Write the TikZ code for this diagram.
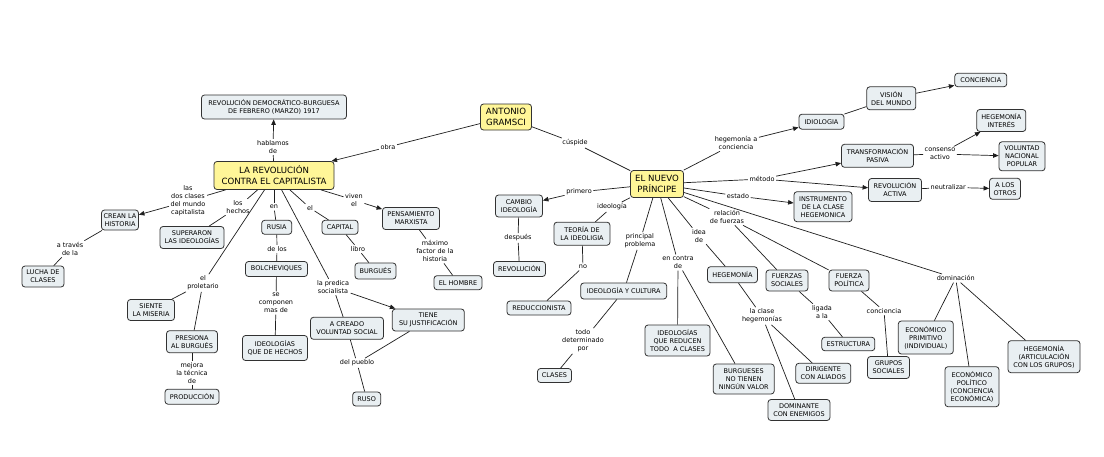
\documentclass[tikz,border=0pt]{standalone}
\usepackage{fontspec}
\setmainfont{DejaVu Sans}
\usetikzlibrary{arrows.meta}
\definecolor{cfill}{RGB}{233,239,242}
\definecolor{yfill}{RGB}{255,246,152}
\definecolor{bordc}{RGB}{50,50,50}
\definecolor{linec}{RGB}{30,30,30}
\tikzset{
 cb/.style={draw=bordc, fill=cfill, rounded corners=3pt, line width=0.8pt, align=center,
   font=\fontsize{6.5}{8}\selectfont, inner sep=1pt, text=black},
 yb/.style={cb, fill=yfill, font=\fontsize{8.6}{11}\selectfont, text=black},
 lb/.style={align=center, font=\fontsize{6.5}{8}\selectfont, inner sep=1.5pt, text=black},
 ln/.style={draw=linec, line width=0.7pt},
 ar/.style={ln, -{Triangle[length=5.5pt,width=4.5pt]}},
}
\begin{document}
\begin{tikzpicture}[x=1pt,y=-1pt]
\fill[white] (0,0) rectangle (1104,456);
\useasboundingbox (0,0) rectangle (1104,456);
% ---------- concepts ----------
\node[cb, minimum width=145, minimum height=24] (rdb) at (274,107) {REVOLUCIÓN DEMOCRÁTICO-BURGUESA\\DE FEBRERO (MARZO) 1917};
\node[yb, minimum width=120, minimum height=28] (larev) at (274,175.5) {LA REVOLUCIÓN\\CONTRA EL CAPITALISTA};
\node[yb, minimum width=51, minimum height=26] (gram) at (506,117) {ANTONIO\\GRAMSCI};
\node[yb, minimum width=53, minimum height=27] (np) at (657,184) {EL NUEVO\\PRÍNCIPE};
\node[cb, minimum width=37, minimum height=20] (crean) at (120,220) {CREAN LA\\HISTORIA};
\node[cb, minimum width=42, minimum height=21] (lucha) at (43,276.5) {LUCHA DE\\CLASES};
\node[cb, minimum width=64, minimum height=22] (superaron) at (192,237.5) {SUPERARON\\LAS IDEOLOGÍAS};
\node[cb, minimum width=47, minimum height=21] (siente) at (151,310) {SIENTE\\LA MISERIA};
\node[cb, minimum width=51, minimum height=22] (presiona) at (192,341.7) {PRESIONA\\AL BURGUÉS};
\node[cb, minimum width=54, minimum height=15] (produccion) at (192,396.7) {PRODUCCIÓN};
\node[cb, minimum width=30, minimum height=14] (rusia) at (276.7,227.3) {RUSIA};
\node[cb, minimum width=62, minimum height=15] (bolch) at (276.5,269) {BOLCHEVIQUES};
\node[cb, minimum width=65, minimum height=25] (ideohechos) at (275,348) {IDEOLOGÍAS\\QUE DE HECHOS};
\node[cb, minimum width=36, minimum height=14] (capital) at (340,227.3) {CAPITAL};
\node[cb, minimum width=41, minimum height=16] (burgues) at (375.5,271) {BURGUÉS};
\node[cb, minimum width=57, minimum height=22] (pensam) at (411,218.5) {PENSAMIENTO\\MARXISTA};
\node[cb, minimum width=48, minimum height=14] (hombre) at (458,282.7) {EL HOMBRE};
\node[cb, minimum width=73, minimum height=22] (acreado) at (347,328.3) {A CREADO\\VOLUNTAD SOCIAL};
\node[cb, minimum width=72, minimum height=22] (tiene) at (428.3,320) {TIENE\\SU JUSTIFICACIÓN};
\node[cb, minimum width=28, minimum height=14] (ruso) at (366.7,399) {RUSO};
\node[cb, minimum width=47, minimum height=22] (cambio) at (519,206) {CAMBIO\\IDEOLOGÍA};
\node[cb, minimum width=52, minimum height=15] (revol) at (519.5,269) {REVOLUCIÓN};
\node[cb, minimum width=56, minimum height=23] (teoria) at (582,233.7) {TEORÍA DE\\LA IDEOLIGIA};
\node[cb, minimum width=64, minimum height=14] (reducc) at (539,308) {REDUCCIONISTA};
\node[cb, minimum width=86, minimum height=16] (ideocult) at (623.7,291) {IDEOLOGÍA Y CULTURA};
\node[cb, minimum width=34, minimum height=14] (clases) at (554.5,375.5) {CLASES};
\node[cb, minimum width=65, minimum height=31] (ideored) at (677.5,340.5) {IDEOLOGÍAS\\QUE REDUCEN\\TODO\ \ A CLASES};
\node[cb, minimum width=61, minimum height=30] (burgueses) at (743.7,379) {BURGUESES\\NO TIENEN\\NINGÚN VALOR};
\node[cb, minimum width=50, minimum height=16] (hegem) at (732.5,274.7) {HEGEMONÍA};
\node[cb, minimum width=55, minimum height=20] (dirigente) at (823.3,373.3) {DIRIGENTE\\CON ALIADOS};
\node[cb, minimum width=62, minimum height=21] (dominante) at (799,410) {DOMINANTE\\CON ENEMIGOS};
\node[cb, minimum width=45, minimum height=15] (idiologia) at (821.5,121.7) {IDIOLOGIA};
\node[cb, minimum width=49, minimum height=23] (vision) at (891.3,98.3) {VISIÓN\\DEL MUNDO};
\node[cb, minimum width=52, minimum height=13.5] (conciencia) at (980.8,80) {CONCIENCIA};
\node[cb, minimum width=72, minimum height=23] (transf) at (877.5,155.8) {TRANSFORMACIÓN\\PASIVA};
\node[cb, minimum width=49, minimum height=22] (hegint) at (1001.3,120.5) {HEGEMONÍA\\INTERÉS};
\node[cb, minimum width=46, minimum height=29] (voluntad) at (1022,156.3) {VOLUNTAD\\NACIONAL\\POPULAR};
\node[cb, minimum width=53, minimum height=23] (revact) at (895,190) {REVOLUCIÓN\\ACTIVA};
\node[cb, minimum width=31, minimum height=21] (losotros) at (1005,188.8) {A LOS\\OTROS};
\node[cb, minimum width=58, minimum height=30] (instr) at (823,206.7) {INSTRUMENTO\\DE LA CLASE\\HEGEMONICA};
\node[cb, minimum width=42, minimum height=21] (fsoc) at (787,280.5) {FUERZAS\\SOCIALES};
\node[cb, minimum width=53, minimum height=13.5] (estruct) at (848.3,344) {ESTRUCTURA};
\node[cb, minimum width=40, minimum height=21] (fpol) at (849,280.5) {FUERZA\\POLÍTICA};
\node[cb, minimum width=42, minimum height=22] (grupos) at (888.5,367.5) {GRUPOS\\SOCIALES};
\node[cb, minimum width=55, minimum height=33] (ecoprim) at (925.8,337.5) {ECONÓMICO\\PRIMITIVO\\(INDIVIDUAL)};
\node[cb, minimum width=54, minimum height=40] (ecopol) at (972,386.7) {ECONÓMICO\\POLÍTICO\\(CONCIENCIA\\ECONÓMICA)};
\node[cb, minimum width=72, minimum height=32] (hegart) at (1044,356.7) {HEGEMONÍA\\(ARTICULACIÓN\\CON LOS GRUPOS)};
% ---------- linking phrases ----------
\node[lb] (hablamos) at (273,147) {hablamos\\de};
\node[lb] (obra) at (388,147) {obra};
\node[lb] (cuspide) at (575,143) {cúspide};
\node[lb] (dosclases) at (188,201) {las\\dos clases\\del mundo\\capitalista};
\node[lb] (atraves) at (70,249) {a través\\de la};
\node[lb] (loshechos) at (238,207) {los\\hechos};
\node[lb] (proletario) at (203,283) {el\\proletario};
\node[lb] (mejora) at (192,373) {mejora\\la técnica\\de};
\node[lb] (en) at (274,207) {en};
\node[lb] (delos) at (277,249) {de los};
\node[lb] (secomponen) at (276,303) {se\\componen\\mas de};
\node[lb] (el) at (310,208) {el};
\node[lb] (libro) at (358,249) {libro};
\node[lb] (viven) at (354,200) {viven\\el};
\node[lb] (maximo) at (435,251) {máximo\\factor de la\\historia};
\node[lb] (predica) at (333,287) {la predica\\socialista};
\node[lb] (delpueblo) at (357,363) {del pueblo};
\node[lb] (primero) at (579,192) {primero};
\node[lb] (despues) at (518,238) {después};
\node[lb] (ideologia) at (612,207) {ideología};
\node[lb] (no) at (583,267) {no};
\node[lb] (principal) at (640,241) {principal\\problema};
\node[lb] (todo) at (583,341) {todo\\determinado\\por};
\node[lb] (encontra) at (678,262.5) {en contra\\de};
\node[lb] (idea) at (699,236) {idea\\de};
\node[lb] (clasehegem) at (762,316) {la clase\\hegemonías};
\node[lb] (relacion) at (727,217) {relación\\de fuerzas};
\node[lb] (hegconc) at (736,143) {hegemonía a\\conciencia};
\node[lb] (metodo) at (762,179) {método};
\node[lb] (consenso) at (940,154) {consenso\\activo};
\node[lb] (neutralizar) at (948.3,187.3) {neutralizar};
\node[lb] (estado) at (738,196) {estado};
\node[lb] (ligada) at (822,312) {ligada\\a la};
\node[lb] (concL) at (884,311) {conciencia};
\node[lb] (dominacion) at (955.7,278.3) {dominación};
% ---------- connectors ----------
\draw[ln] (larev) -- (hablamos); \draw[ar] (hablamos) -- (rdb);
\draw[ln] (gram) -- (obra); \draw[ar] (obra) -- (larev);
\draw[ln] (gram) -- (cuspide); \draw[ln] (cuspide) -- (np);
\draw[ln] (larev) -- (dosclases); \draw[ar] (dosclases) -- (crean);
\draw[ln] (crean) -- (atraves); \draw[ln] (atraves) -- (lucha);
\draw[ln] (larev) -- (loshechos); \draw[ln] (loshechos) -- (superaron);
\draw[ln] (larev) -- (proletario); \draw[ln] (proletario) -- (siente); \draw[ln] (proletario) -- (presiona);
\draw[ln] (presiona) -- (mejora); \draw[ln] (mejora) -- (produccion);
\draw[ln] (larev) -- (en); \draw[ln] (en) -- (rusia);
\draw[ln] (rusia) -- (delos); \draw[ln] (delos) -- (bolch);
\draw[ln] (bolch) -- (secomponen); \draw[ln] (secomponen) -- (ideohechos);
\draw[ln] (larev) -- (el); \draw[ln] (el) -- (capital);
\draw[ln] (capital) -- (libro); \draw[ln] (libro) -- (burgues);
\draw[ln] (larev) -- (viven); \draw[ar] (viven) -- (pensam);
\draw[ln] (pensam) -- (maximo); \draw[ln] (maximo) -- (hombre);
\draw[ln] (larev) -- (predica); \draw[ln] (predica) -- (acreado); \draw[ar] (predica) -- (tiene);
\draw[ln] (acreado) -- (delpueblo); \draw[ln] (tiene) -- (delpueblo); \draw[ln] (delpueblo) -- (ruso);
\draw[ln] (np) -- (primero); \draw[ar] (primero) -- (cambio);
\draw[ln] (cambio) -- (despues); \draw[ln] (despues) -- (revol);
\draw[ln] (np) -- (ideologia); \draw[ln] (ideologia) -- (teoria);
\draw[ln] (teoria) -- (no); \draw[ln] (no) -- (reducc);
\draw[ln] (np) -- (principal); \draw[ln] (principal) -- (ideocult);
\draw[ln] (ideocult) -- (todo); \draw[ln] (todo) -- (clases);
\draw[ln] (np) -- (encontra); \draw[ln] (encontra) -- (ideored); \draw[ln] (encontra) -- (burgueses);
\draw[ln] (np) -- (idea); \draw[ln] (idea) -- (hegem);
\draw[ln] (hegem) -- (clasehegem); \draw[ln] (clasehegem) -- (dirigente); \draw[ln] (clasehegem) -- (dominante);
\draw[ln] (np) -- (relacion); \draw[ln] (relacion) -- (fsoc); \draw[ln] (relacion) -- (fpol);
\draw[ln] (fsoc) -- (ligada); \draw[ln] (ligada) -- (estruct);
\draw[ln] (fpol) -- (concL); \draw[ln] (concL) -- (grupos);
\draw[ln] (np) -- (dominacion); \draw[ln] (dominacion) -- (ecoprim); \draw[ln] (dominacion) -- (ecopol); \draw[ln] (dominacion) -- (hegart);
\draw[ln] (np) -- (hegconc); \draw[ar] (hegconc) -- (idiologia);
\draw[ln] (idiologia) -- (vision); \draw[ar] (vision) -- (conciencia);
\draw[ln] (np) -- (metodo); \draw[ar] (metodo) -- (transf); \draw[ar] (metodo) -- (revact);
\draw[ln] (transf) -- (consenso); \draw[ar] (consenso) -- (hegint); \draw[ar] (consenso) -- (voluntad);
\draw[ln] (revact) -- (neutralizar); \draw[ar] (neutralizar) -- (losotros);
\draw[ln] (np) -- (estado); \draw[ar] (estado) -- (instr);
\end{tikzpicture}
\end{document}
